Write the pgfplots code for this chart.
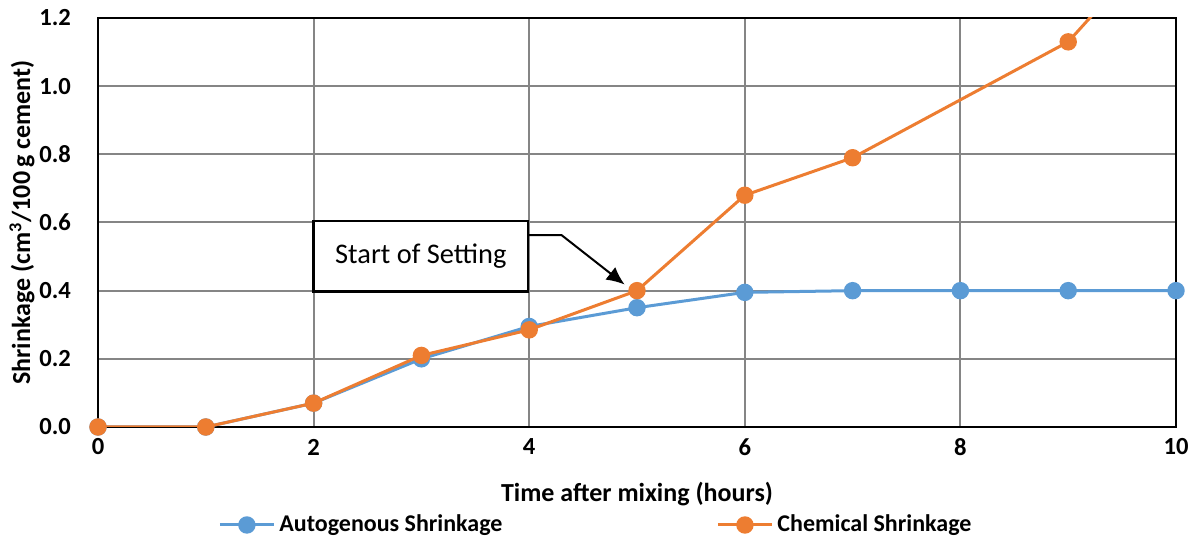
\documentclass[border=0pt]{standalone}
\usepackage{fontspec}
\setmainfont{Carlito}
\usepackage{pgfplots}
\usetikzlibrary{arrows.meta}
\pgfplotsset{compat=1.18}
\definecolor{autoblue}{HTML}{5B9BD5}
\definecolor{chemorange}{HTML}{ED7D31}
\definecolor{gridgrey}{HTML}{858585}

\begin{document}
\begin{tikzpicture}
\useasboundingbox (-49pt,-56.5pt) rectangle (548.5pt,213.5pt);
\begin{axis}[
    at={(0,0)}, anchor=south west,
    scale only axis,
    width=539pt, height=204.5pt,
    xmin=0, xmax=10, ymin=0, ymax=1.2,
    xtick={0,2,...,10},
    ytick={0,0.2,...,1.2},
    yticklabel style={/pgf/number format/fixed, /pgf/number format/fixed zerofill, /pgf/number format/precision=1,
        anchor=east, xshift=-10pt},
    /pgf/number format/assume math mode=true,
    tick label style={font=\fontsize{12.3}{14}\selectfont\bfseries},
    xticklabel style={anchor=center, yshift=-10pt},
    major tick length=0pt,
    xmajorgrids, ymajorgrids,
    grid style={gridgrey, line width=1pt},
    axis line style={black, line width=1.2pt},
    xlabel={Time after mixing (hours)},
    ylabel={Shrinkage (cm\textsuperscript{3}/100\,g cement)},
    label style={font=\fontsize{13}{15}\selectfont\bfseries},
    xlabel style={at={(axis description cs:0.5,-0.1638)}, anchor=center},
    ylabel style={at={(axis description cs:-0.0705,0.5)}, anchor=center},
    clip mode=individual,
    legend columns=2,
    legend style={draw=none, fill=none, inner sep=0pt, at={(axis description cs:0.1113,-0.2396)}, anchor=west,
        font=\fontsize{12}{14}\selectfont\bfseries,
        /tikz/every even column/.append style={column sep=105pt}},
    legend image code/.code={
        \draw[#1, mark repeat=2, mark phase=2] plot coordinates {(0pt,0pt) (13.5pt,0pt) (27pt,0pt)};
    },
]
\addplot[autoblue, line width=1.5pt, mark=*, mark size=3.6pt] coordinates {
    (0,0) (1,0) (2,0.07) (3,0.20) (4,0.295) (5,0.35) (6,0.395) (7,0.40) (8,0.40) (9,0.40) (10,0.40)
};
\addplot[chemorange, line width=1.5pt, mark=*, mark size=3.6pt] coordinates {
    (0,0) (1,0) (2,0.07) (3,0.21) (4,0.285) (5,0.40) (6,0.68) (7,0.79) (9,1.13) (10,1.48)
};
\legend{Autogenous Shrinkage, Chemical Shrinkage}
\draw[black, line width=1.2pt, fill=white] (axis cs:2,0.398) rectangle (axis cs:3.99,0.605)
    node[midway, font=\fontsize{14.2}{16}\selectfont] {Start of Setting};
\draw[black, line width=1pt, -{Latex[length=9pt,width=8pt]}]
    (axis cs:3.99,0.563) -- (axis cs:4.30,0.563) -- (axis cs:4.885,0.418);
\end{axis}
\end{tikzpicture}
\end{document}
